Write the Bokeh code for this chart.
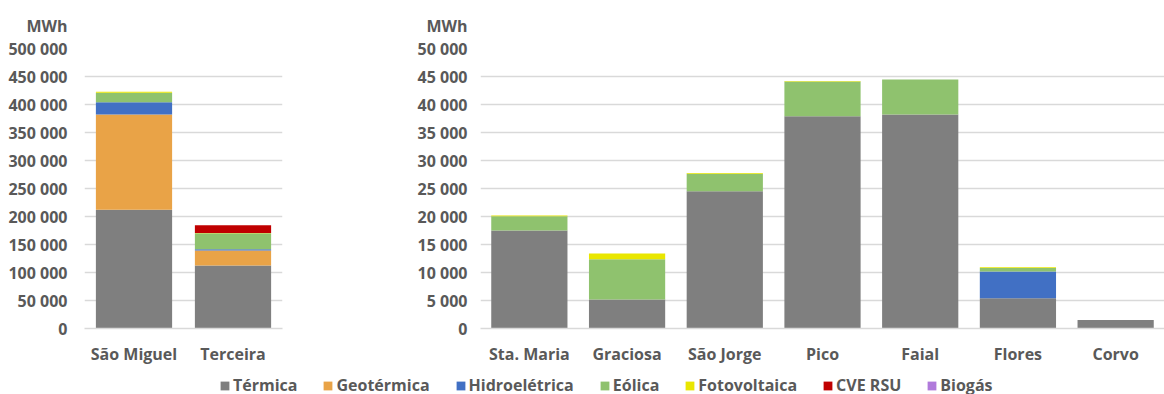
from bokeh.plotting import figure
from bokeh.models import (ColumnDataSource, FactorRange, Range1d, SingleIntervalTicker,
                          CustomJSTickFormatter, Legend, LegendItem)
from bokeh.layouts import column, row
from bokeh.embed import file_html
from bokeh.resources import INLINE

# ---------------- data ----------------
series = ["Térmica", "Geotérmica", "Hidroelétrica", "Eólica", "Fotovoltaica", "CVE RSU", "Biogás"]
colors = ["#7F7F7F", "#E9A347", "#4170C4", "#8FC26E", "#E9E600", "#C00000", "#B07ADB"]

islands_big = ["São Miguel", "Terceira"]
termica_big = [212000, 112500]
geotermica_big = [170000, 26800]
hidro_big = [22000, 2200]
eolica_big = [16800, 28700]
fotovoltaica_big = [1800, 300]
rsu_big = [0, 13800]
biogas_big = [0, 0]

islands_small = ["Sta. Maria", "Graciosa", "São Jorge", "Pico", "Faial", "Flores", "Corvo"]
termica_small = [17500, 5200, 24500, 37900, 38200, 5400, 1500]
geotermica_small = [0, 0, 0, 0, 0, 0, 0]
hidro_small = [0, 0, 0, 0, 0, 4800, 0]
eolica_small = [2550, 7150, 3150, 6200, 6250, 600, 0]
fotovoltaica_small = [150, 1050, 100, 100, 0, 150, 0]
rsu_small = [0, 0, 0, 0, 0, 0, 0]
biogas_small = [0, 0, 0, 0, 0, 0, 0]

ticks_big_interval = 50000
ticks_small_interval = 5000
unit_label = "MWh"

FONT = "Open Sans"
TXT = "#595959"
GRID = "#D9D9D9"

fmt = CustomJSTickFormatter(code="return tick.toString().replace(/\\B(?=(\\d{3})+(?!\\d))/g, ' ');")


def make_chart(islands, cols, ymax, interval, width, left_border, frame_w, y_standoff, title_offset, bar_w):
    src = ColumnDataSource(dict(island=islands, **{s: c for s, c in zip(series, cols)}))
    p = figure(x_range=FactorRange(*islands, range_padding=0), y_range=Range1d(0, ymax),
               width=width, height=364, output_backend="svg", toolbar_location=None,
               min_border_left=left_border, min_border_right=width - left_border - frame_w,
               min_border_top=48, min_border_bottom=36, title=unit_label)
    p.frame_width = frame_w
    p.frame_height = 280
    p.vbar_stack(series, x="island", width=bar_w, source=src, color=colors, line_color=None)
    p.outline_line_color = None
    p.xgrid.grid_line_color = None
    p.ygrid.grid_line_color = GRID
    p.ygrid.grid_line_width = 1.5
    p.yaxis.ticker = SingleIntervalTicker(interval=interval)
    p.yaxis.formatter = fmt
    p.yaxis.axis_line_color = None
    p.yaxis.major_tick_line_color = None
    p.yaxis.minor_tick_line_color = None
    p.yaxis.major_tick_out = 0
    p.yaxis.minor_tick_out = 0
    p.yaxis.major_label_standoff = y_standoff
    p.xaxis.axis_line_color = GRID
    p.xaxis.axis_line_width = 1.5
    p.xaxis.major_tick_line_color = None
    p.xaxis.major_tick_out = 0
    p.xaxis.major_label_standoff = 14
    for ax in (p.xaxis[0], p.yaxis[0]):
        ax.major_label_text_font = FONT
        ax.major_label_text_font_size = "16px"
        ax.major_label_text_font_style = "bold"
        ax.major_label_text_color = TXT
    p.title.align = "left"
    p.title.offset = title_offset
    p.title.standoff = 23
    p.title.text_font = FONT
    p.title.text_font_size = "16px"
    p.title.text_font_style = "bold"
    p.title.text_color = TXT
    return p


p1 = make_chart(islands_big,
                [termica_big, geotermica_big, hidro_big, eolica_big, fotovoltaica_big, rsu_big, biogas_big],
                500000, ticks_big_interval, 300, 84, 198, 17, -58, 0.77)
p2 = make_chart(islands_small,
                [termica_small, geotermica_small, hidro_small, eolica_small, fotovoltaica_small, rsu_small, biogas_small],
                50000, ticks_small_interval, 864, 180, 684, 13, -54, 0.78)

# legend strip
pl = figure(width=1164, height=30, output_backend="svg", toolbar_location=None,
            x_range=Range1d(0, 1), y_range=Range1d(0, 1),
            min_border_left=0, min_border_right=0, min_border_top=0, min_border_bottom=0)
pl.xaxis.visible = False
pl.yaxis.visible = False
pl.grid.visible = False
pl.outline_line_color = None
items = []
for s, c in zip(series, colors):
    r = pl.vbar(x=[5], top=[5], bottom=[4], width=0.5, fill_color=c, line_color=None)
    items.append(LegendItem(label=s, renderers=[r]))
leg = Legend(items=items, orientation="horizontal", location=(219, 1),
             glyph_width=11, glyph_height=11, label_standoff=3, spacing=25,
             padding=0, margin=0, border_line_color=None, background_fill_alpha=0,
             label_text_font=FONT, label_text_font_size="16px", label_text_font_style="bold",
             label_text_color=TXT, label_height=20)
pl.add_layout(leg)

layout = column(row(p1, p2, spacing=0), pl, spacing=0)
open("out.html", "w").write(file_html(layout, INLINE))
